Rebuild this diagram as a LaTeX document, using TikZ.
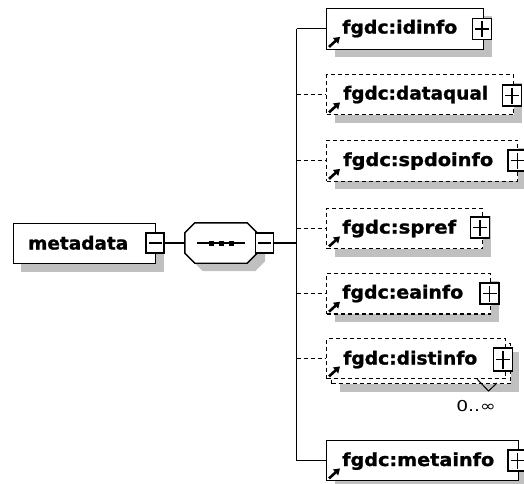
\documentclass[tikz,border=0pt]{standalone}
\usepackage{fontspec}
\usepackage{graphicx}
\usetikzlibrary{arrows.meta}
\newfontfamily\elfont[FakeBold=1.2]{DejaVu Sans Bold}
\newfontfamily\numfont[FakeStretch=1.25]{DejaVu Sans}
\newcommand\elname[2]{\resizebox{#1pt}{\height}{#2}}
\definecolor{shgray}{RGB}{192,192,192}
\tikzset{
  shadowed/.style={preaction={draw=none,fill=shgray,transform canvas={shift={(8pt,-8pt)}}}},
  elem/.style={draw,line width=1.4pt,fill=white,rectangle,inner sep=0pt,anchor=north west},
  optelem/.style={elem,dash pattern=on 4pt off 3pt},
  eltext/.style={inner sep=0pt,anchor=base west,font=\elfont\fontsize{18}{21}\selectfont},
  plusbox/.style={draw,line width=1.3pt,fill=white,rectangle,inner sep=0pt,minimum width=19pt,minimum height=21pt,
    path picture={\draw[line width=1.4pt]
      ([xshift=2.5pt]path picture bounding box.west) -- ([xshift=-2.5pt]path picture bounding box.east)
      ([yshift=-2.5pt]path picture bounding box.north) -- ([yshift=2.5pt]path picture bounding box.south);}},
  minusbox/.style={draw,line width=1.3pt,fill=white,rectangle,inner sep=0pt,minimum width=18pt,minimum height=20pt,
    path picture={\draw[line width=1.4pt]
      ([xshift=2.5pt]path picture bounding box.west) -- ([xshift=-2.5pt]path picture bounding box.east);}},
  conn/.style={line width=1.3pt},
  optconn/.style={conn,dash pattern=on 4pt off 3pt},
  refarrow/.style={line width=2.6pt,-{Triangle[length=6pt,width=7.5pt]}},
}
\def\seqoct{([xshift=10pt]seq.north west) -- ([xshift=-10pt]seq.north east) -- ([yshift=-10pt]seq.north east)
  -- ([yshift=10pt]seq.south east) -- ([xshift=-10pt]seq.south east) -- ([xshift=10pt]seq.south west)
  -- ([yshift=10pt]seq.south west) -- ([yshift=-10pt]seq.north west) -- cycle}
\begin{document}
\begin{tikzpicture}[x=1pt,y=-1pt]
\useasboundingbox (0,0) rectangle (524,483);
\clip (0,0) rectangle (524,483);

% root element
\node[elem,shadowed,minimum width=142.3pt,minimum height=40pt] (md) at (12.7,223) {};
\node[eltext] (mdT) at (28,249.5) {\elname{100}{metadata}};
\node[minusbox] (mdM) at (155,243) {};

% sequence compositor
\node[rectangle,inner sep=0pt,minimum width=72pt,minimum height=40pt] (seq) at (221,243) {};
\fill[shgray,transform canvas={shift={(8pt,-8pt)}}] \seqoct;
\filldraw[fill=white,line width=1.4pt] \seqoct;
\draw[line width=1.3pt] ([xshift=-24pt]seq.center) -- ([xshift=24pt]seq.center);
\foreach \dx in {-10,0,10}
  \fill ([xshift=\dx pt]seq.center) +(-2.5,-2.5) rectangle +(2.5,2.5);
\node[minusbox] (seqM) at (264.5,243) {};

% child elements
\node[elem,shadowed,minimum width=157pt,minimum height=41pt] (idinfo) at (326,7.5) {};
\node[eltext] (idinfoT) at (342,33.5) {\elname{115}{fgdc:idinfo}};
\node[plusbox] (idinfoP) at (482,29) {};

\node[optelem,shadowed,minimum width=187pt,minimum height=40pt] (dataqual) at (326,74) {};
\node[eltext] (dataqualT) at (343,99.5) {\elname{145}{fgdc:dataqual}};
\node[plusbox] (dataqualP) at (512,95.5) {};

\node[optelem,shadowed,minimum width=191pt,minimum height=41pt] (spdoinfo) at (326,139.5) {};
\node[eltext] (spdoinfoT) at (343,166) {\elname{150}{fgdc:spdoinfo}};
\node[plusbox] (spdoinfoP) at (517.5,160.5) {};

\node[optelem,shadowed,minimum width=156pt,minimum height=40.5pt] (spref) at (326,207.5) {};
\node[eltext] (sprefT) at (342,233.5) {\elname{114}{fgdc:spref}};
\node[plusbox] (sprefP) at (480,227.5) {};

\node[optelem,shadowed,minimum width=164pt,minimum height=40.6pt] (eainfo) at (326,272.7) {};
\node[eltext] (eainfoT) at (342,298.5) {\elname{121}{fgdc:eainfo}};
\node[plusbox] (eainfoP) at (489.5,293.5) {};

\node[optelem,shadowed,minimum width=179pt,minimum height=40pt] (distinfoB) at (331,343) {};
\node[optelem,minimum width=179pt,minimum height=40pt] (distinfo) at (326,338) {};
\node[eltext] (distinfoT) at (343,364.5) {\elname{134}{fgdc:distinfo}};
\node[plusbox,minimum height=23pt] (distinfoP) at (503,359.5) {};
\draw[line width=1pt] (477,379) -- (488.5,391) -- (497,383);
\node[inner sep=0pt,font=\numfont\fontsize{15}{18}\selectfont] (occ) at (476,406.5) {0..∞};

\node[elem,shadowed,minimum width=192pt,minimum height=40pt] (metainfo) at (326,440) {};
\node[eltext] (metainfoT) at (342,466) {\elname{152}{fgdc:metainfo}};
\node[plusbox] (metainfoP) at (517.5,460.5) {};

% reference arrows
\foreach \n in {idinfo,dataqual,spdoinfo,spref,eainfo,distinfo,metainfo}
  \draw[refarrow] ([shift={(3,-3)}]\n.south west) -- ++(11,-10);

% connectors
\draw[conn] (mdM.east) -- (seq.west);
\coordinate (bus) at (296.7,243);
\draw[conn] (seqM.east) -- (bus);
\draw[conn] (bus |- idinfo.west) -- (bus |- metainfo.west);
\draw[conn] (bus |- idinfo.west) -- (idinfo.west);
\draw[optconn] (bus |- dataqual.west) -- (dataqual.west);
\draw[optconn] (bus |- spdoinfo.west) -- (spdoinfo.west);
\draw[optconn] (bus |- spref.west) -- (spref.west);
\draw[optconn] (bus |- eainfo.west) -- (eainfo.west);
\draw[optconn] (bus |- distinfo.west) -- (distinfo.west);
\draw[conn] (bus |- metainfo.west) -- (metainfo.west);
\end{tikzpicture}
\end{document}
